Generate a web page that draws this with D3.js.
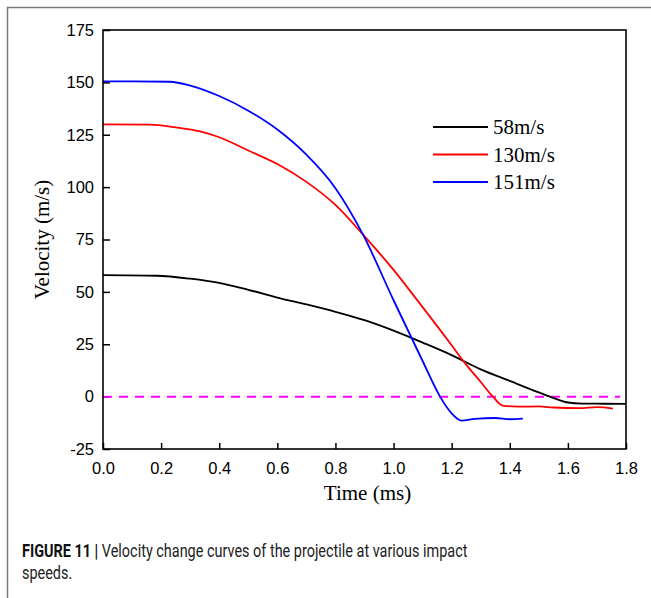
<!DOCTYPE html>
<html>
<head>
<meta charset="utf-8">
<script src="https://cdn.jsdelivr.net/npm/d3@7"></script>
<style>
  html, body { margin: 0; padding: 0; background: #fff; }
  svg { display: block; }
</style>
</head>
<body>
<svg id="chart" width="651" height="598"></svg>
<script>
// Velocity histories of the projectile (time in ms, velocity in m/s)
const seriesNames = ["58m/s", "130m/s", "151m/s"];
const seriesColors = ["#000000", "#ff0000", "#0000ff"];

const time58 = [0, 0.185, 0.3, 0.4, 0.5, 0.6, 0.7, 0.8, 0.9, 1.0, 1.1, 1.2, 1.3, 1.4, 1.5, 1.538, 1.6, 1.65, 1.72, 1.8];
const vel58  = [58, 57.7, 56.3, 54.3, 51, 47.3, 44, 40.5, 36.5, 31.5, 25.8, 19.8, 13, 7.5, 2, 0, -2.8, -3.3, -3.4, -3.5];

const time130 = [0, 0.16, 0.25, 0.334, 0.4, 0.5, 0.6, 0.7, 0.8, 0.895, 1.0, 1.08, 1.2, 1.239, 1.3, 1.342, 1.376, 1.43, 1.5, 1.55, 1.64, 1.7, 1.755];
const vel130  = [130, 129.8, 128.5, 126.6, 123.8, 117.5, 111, 102.5, 91.5, 77.3, 60.5, 46.3, 24.5, 17.2, 7, 0, -4.3, -4.8, -4.7, -5.2, -5.5, -5, -5.7];

const time151 = [0, 0.1, 0.23, 0.3, 0.4, 0.5, 0.6, 0.7, 0.8, 0.895, 1.0, 1.1, 1.16, 1.2, 1.235, 1.28, 1.35, 1.4, 1.445];
const vel151  = [150.5, 150.5, 150.3, 148.5, 143.5, 136.5, 127.5, 115.5, 99.5, 77.3, 46, 17, 0, -8, -11.5, -10.6, -10.2, -10.8, -10.5];

const xTicks = [0, 0.2, 0.4, 0.6, 0.8, 1.0, 1.2, 1.4, 1.6, 1.8];
const yTicks = [-25, 0, 25, 50, 75, 100, 125, 150, 175];
const xDomain = [0, 1.8];
const yDomain = [-25, 175];
const zeroLine = 0;

const captionBold = "FIGURE 11 |";
const captionLine1 = " Velocity change curves of the projectile at various impact";
const captionLine2 = "speeds.";

const svg = d3.select("#chart");

// Frame around the figure
svg.append("path")
  .attr("d", "M7.5,598 L7.5,7.5 L651,7.5")
  .attr("fill", "none")
  .attr("stroke", "#7a7a7a")
  .attr("stroke-width", 1.5);

const plot = { left: 103, right: 626, top: 30, bottom: 449 };

const x = d3.scaleLinear().domain(xDomain).range([plot.left, plot.right]);
const y = d3.scaleLinear().domain(yDomain).range([plot.bottom, plot.top]);

const tickFont = "'Liberation Sans', Arial, sans-serif";
const serifFont = "'Liberation Serif', 'Times New Roman', serif";

// Bottom axis: inward ticks
const xAxis = d3.axisBottom(x).tickValues(xTicks).tickSizeInner(-6).tickSizeOuter(0)
  .tickPadding(13).tickFormat(d => d.toFixed(1));
const gx = svg.append("g").attr("transform", `translate(0,${plot.bottom})`).call(xAxis);
gx.select(".domain").remove();
gx.selectAll(".tick line").attr("stroke", "#000").attr("stroke-width", 1.5);
gx.selectAll(".tick text").attr("font-family", tickFont).attr("font-size", 16.5).attr("fill", "#000");

// Left axis: inward ticks
const yAxis = d3.axisLeft(y).tickValues(yTicks).tickSizeInner(-7).tickSizeOuter(0)
  .tickPadding(9).tickFormat(d => String(d));
const gy = svg.append("g").attr("transform", `translate(${plot.left},0)`).call(yAxis);
gy.select(".domain").remove();
gy.selectAll(".tick line").attr("stroke", "#000").attr("stroke-width", 1.5);
gy.selectAll(".tick text").attr("font-family", tickFont).attr("font-size", 16.5).attr("fill", "#000");

// Zero reference line
svg.append("line")
  .attr("x1", x(0)).attr("x2", x(1.78))
  .attr("y1", y(zeroLine)).attr("y2", y(zeroLine))
  .attr("stroke", "#ff00ff")
  .attr("stroke-width", 2)
  .attr("stroke-dasharray", "9,7");

// Curves
const allSeries = [
  time58.map((t, i) => [t, vel58[i]]),
  time130.map((t, i) => [t, vel130[i]]),
  time151.map((t, i) => [t, vel151[i]])
];
const line = d3.line().x(d => x(d[0])).y(d => y(d[1])).curve(d3.curveMonotoneX);

svg.append("g").selectAll("path").data(allSeries).join("path")
  .attr("d", line)
  .attr("fill", "none")
  .attr("stroke", (d, i) => seriesColors[i])
  .attr("stroke-width", 1.8)
  .attr("stroke-linejoin", "round");

// Plot box
svg.append("rect")
  .attr("x", plot.left).attr("y", plot.top)
  .attr("width", plot.right - plot.left).attr("height", plot.bottom - plot.top)
  .attr("fill", "none").attr("stroke", "#000").attr("stroke-width", 1.6);

// Axis titles
svg.append("text")
  .attr("x", (plot.left + plot.right) / 2 + 3).attr("y", 500)
  .attr("text-anchor", "middle")
  .attr("font-family", serifFont).attr("font-size", 21)
  .text("Time (ms)");

svg.append("text")
  .attr("transform", `translate(49,${(plot.top + plot.bottom) / 2}) rotate(-90)`)
  .attr("text-anchor", "middle")
  .attr("font-family", serifFont).attr("font-size", 21)
  .text("Velocity (m/s)");

// Legend
const legend = svg.append("g");
seriesNames.forEach((name, i) => {
  const ly = 127 + i * 27.5;
  legend.append("line")
    .attr("x1", 433).attr("x2", 488).attr("y1", ly).attr("y2", ly)
    .attr("stroke", seriesColors[i]).attr("stroke-width", 1.8);
  legend.append("text")
    .attr("x", 493).attr("y", ly + 7)
    .attr("font-family", serifFont).attr("font-size", 21)
    .text(name);
});

// Caption, set in a narrow face by horizontally condensing the text block
const capFont = "Roboto, 'Liberation Sans', sans-serif";
const capGroup = svg.append("g");
const cap1 = capGroup.append("text")
  .attr("x", 0).attr("y", 0)
  .attr("font-family", capFont).attr("font-size", 19).attr("fill", "#222")
  .attr("xml:space", "preserve");
cap1.append("tspan").attr("font-weight", "bold").attr("fill", "#111").text(captionBold);
cap1.append("tspan").text(captionLine1);
const cap2 = capGroup.append("text")
  .attr("x", 0).attr("y", 22)
  .attr("font-family", capFont).attr("font-size", 19).attr("fill", "#222")
  .text(captionLine2);
const naturalWidth = cap1.node().getComputedTextLength();
const squeeze = 446 / naturalWidth;
capGroup.attr("transform", `translate(22,557) scale(${squeeze},1)`);
</script>
</body>
</html>
